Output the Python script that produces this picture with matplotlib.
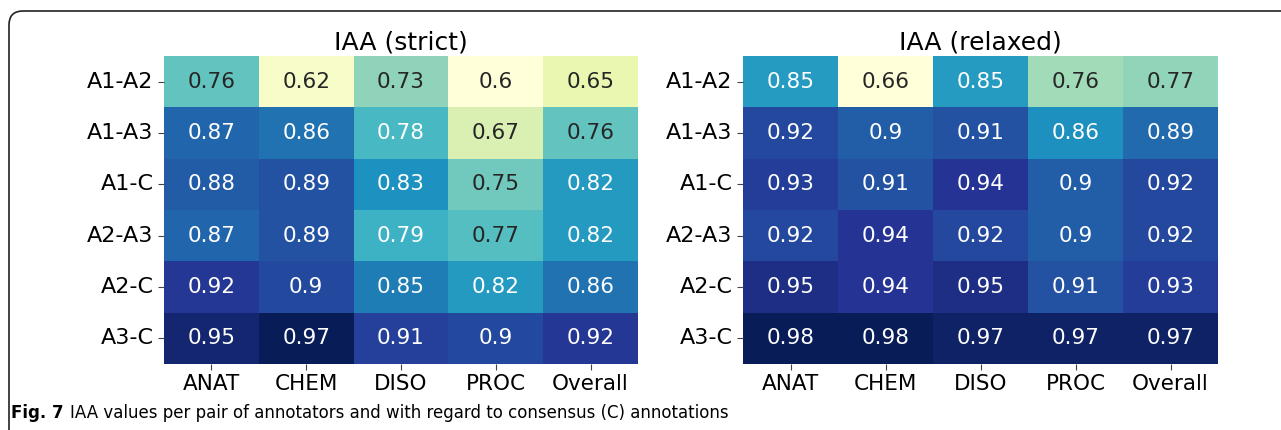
import matplotlib
matplotlib.use("Agg")
import matplotlib.pyplot as plt
from matplotlib.patches import FancyBboxPatch
from matplotlib.transforms import IdentityTransform
import pandas as pd
import seaborn as sns

pairs = ["A1-A2", "A1-A3", "A1-C", "A2-A3", "A2-C", "A3-C"]
cats = ["ANAT", "CHEM", "DISO", "PROC", "Overall"]

strict = [
    [0.76, 0.62, 0.73, 0.6, 0.65],
    [0.87, 0.86, 0.78, 0.67, 0.76],
    [0.88, 0.89, 0.83, 0.75, 0.82],
    [0.87, 0.89, 0.79, 0.77, 0.82],
    [0.92, 0.9, 0.85, 0.82, 0.86],
    [0.95, 0.97, 0.91, 0.9, 0.92],
]
relaxed = [
    [0.85, 0.66, 0.85, 0.76, 0.77],
    [0.92, 0.9, 0.91, 0.86, 0.89],
    [0.93, 0.91, 0.94, 0.9, 0.92],
    [0.92, 0.94, 0.92, 0.9, 0.92],
    [0.95, 0.94, 0.95, 0.91, 0.93],
    [0.98, 0.98, 0.97, 0.97, 0.97],
]
titles = ["IAA (strict)", "IAA (relaxed)"]

fig = plt.figure(figsize=(12.81, 4.30), dpi=100)
ax1 = fig.add_axes([164 / 1281, 1 - 364 / 430, 474 / 1281, 308 / 430])
ax2 = fig.add_axes([743 / 1281, 1 - 364 / 430, 475 / 1281, 308 / 430])

for ax, vals, t in ((ax1, strict, titles[0]), (ax2, relaxed, titles[1])):
    df = pd.DataFrame(vals, index=pairs, columns=cats)
    sns.heatmap(df, annot=True, cmap="YlGnBu", cbar=False, ax=ax,
                annot_kws={"fontsize": 15.5})
    ax.set_title(t, fontsize=18, pad=5)
    ax.tick_params(axis="both", length=4, color="#444444")
    ax.set_yticklabels(pairs, rotation=0, fontsize=16)
    ax.set_xticklabels(cats, rotation=0, fontsize=15.5)

# rahmen oben/links mit runder ecke
frame = FancyBboxPatch((9, -60), 1400, 430 - 11 + 60, boxstyle="round,pad=0,rounding_size=14",
                       transform=IdentityTransform(), fill=False, lw=1.2, ec="#222222")
fig.add_artist(frame)

fig.text(11 / 1281, 1 - 413 / 430, "Fig. 7", fontsize=12, fontweight="bold", va="center")
fig.text(70 / 1281, 1 - 413 / 430, "IAA values per pair of annotators and with regard to consensus (C) annotations",
         fontsize=12, va="center")

fig.savefig("out.png", dpi=100)
